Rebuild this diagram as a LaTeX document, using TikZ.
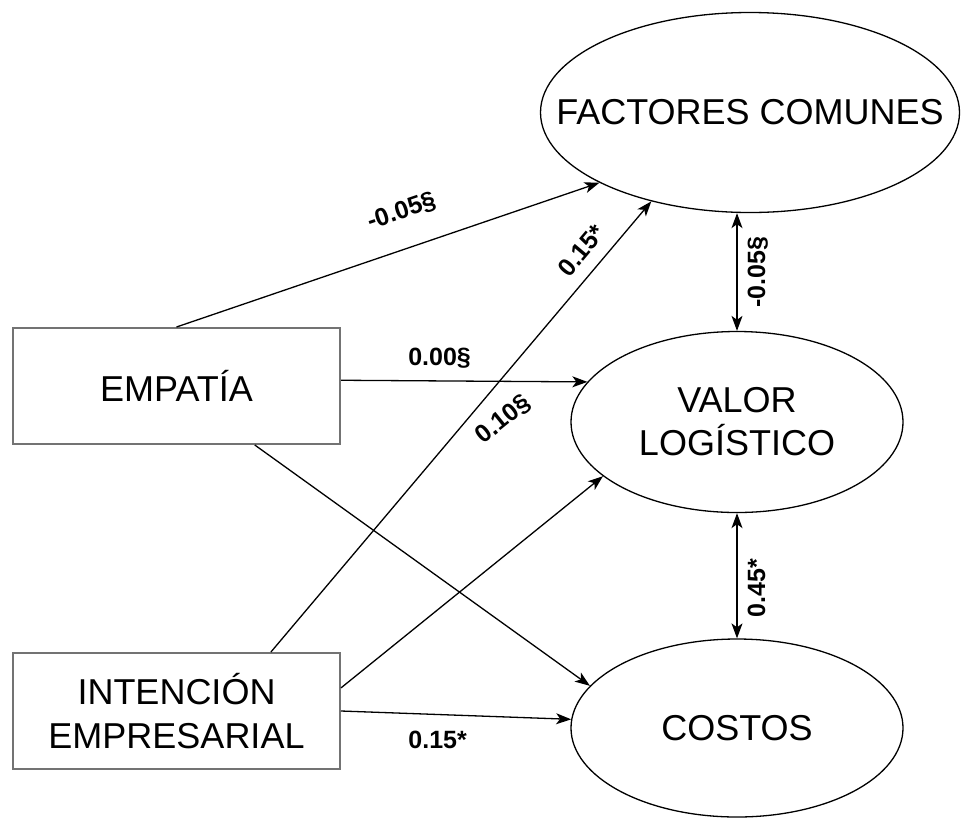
\documentclass[tikz,border=0pt]{standalone}
\usepackage{fontspec}
\setmainfont{Liberation Sans}
\usetikzlibrary{shapes.geometric,arrows.meta,calc}

\begin{document}
\begin{tikzpicture}[
    x=1pt, y=-1pt,
    obs/.style={rectangle, draw=black!55, line width=2pt, minimum width=327pt, minimum height=116pt,
      align=center, font=\fontsize{36}{44}\selectfont},
    lvar/.style={ellipse, draw, line width=1.3pt, inner sep=0pt},
    lvtext/.style={align=center, font=\fontsize{36}{43}\selectfont},
    path/.style={line width=1.3pt, -{Stealth[length=15pt,width=11pt,inset=4pt]}},
    cov/.style={line width=1.3pt, {Stealth[length=15pt,width=11pt,inset=4pt]}-{Stealth[length=15pt,width=11pt,inset=4pt]}},
    coef/.style={font=\fontsize{25}{30}\bfseries\selectfont, inner sep=0pt}
    ]
	\useasboundingbox (0,0) rectangle (961,820);
	% observed
	\node [obs] (emp) at (176.5,386) {EMPAT\'IA};
	\node [obs] (int) at (176.5,711) {INTENCI\'ON\\EMPRESARIAL};
	% latent
	\node [lvar, minimum width=419pt, minimum height=200pt] (fc) at (750,112.5) {};
	\node [lvtext] at (fc.center) {FACTORES COMUNES};
	\node [lvar, minimum width=332pt, minimum height=181pt] (vl) at (737,422) {};
	\node [lvtext] at (vl.center) {VALOR\\LOG\'ISTICO};
	\node [lvar, minimum width=332pt, minimum height=178pt] (co) at (737,728) {};
	\node [lvtext] at (co.center) {COSTOS};
	% paths
	\draw [path] (emp.90) -- (fc.205)
		node [coef, pos=0.56, above=26pt, sloped] {-0.05\S};
	\draw [path] (int.32.4) -- (fc.222)
		node [coef, pos=0.86, above=12pt, sloped] {0.15*};
	\draw [path] (emp.2.5) -- (vl.165)
		node [coef, pos=0.4, above=12pt] {0.00\S};
	\draw [path] (emp.-37) -- (co.164);
	\draw [path] (int.8.3) -- (vl.202)
		node [coef, pos=0.875, above=96pt, sloped] {0.10\S};
	\draw [path] (int.east) -- (co.177)
		node [coef, pos=0.42, below=16pt] {0.15*};
	% covariances
	\draw [cov] (fc.south -| vl.north) -- (vl.north)
		node [coef, midway, right=10pt, rotate=90, anchor=north] {-0.05\S};
	\draw [cov] (vl.south) -- (co.north)
		node [coef, pos=0.6, right=10pt, rotate=90, anchor=north] {0.45*};
\end{tikzpicture}
\end{document}
